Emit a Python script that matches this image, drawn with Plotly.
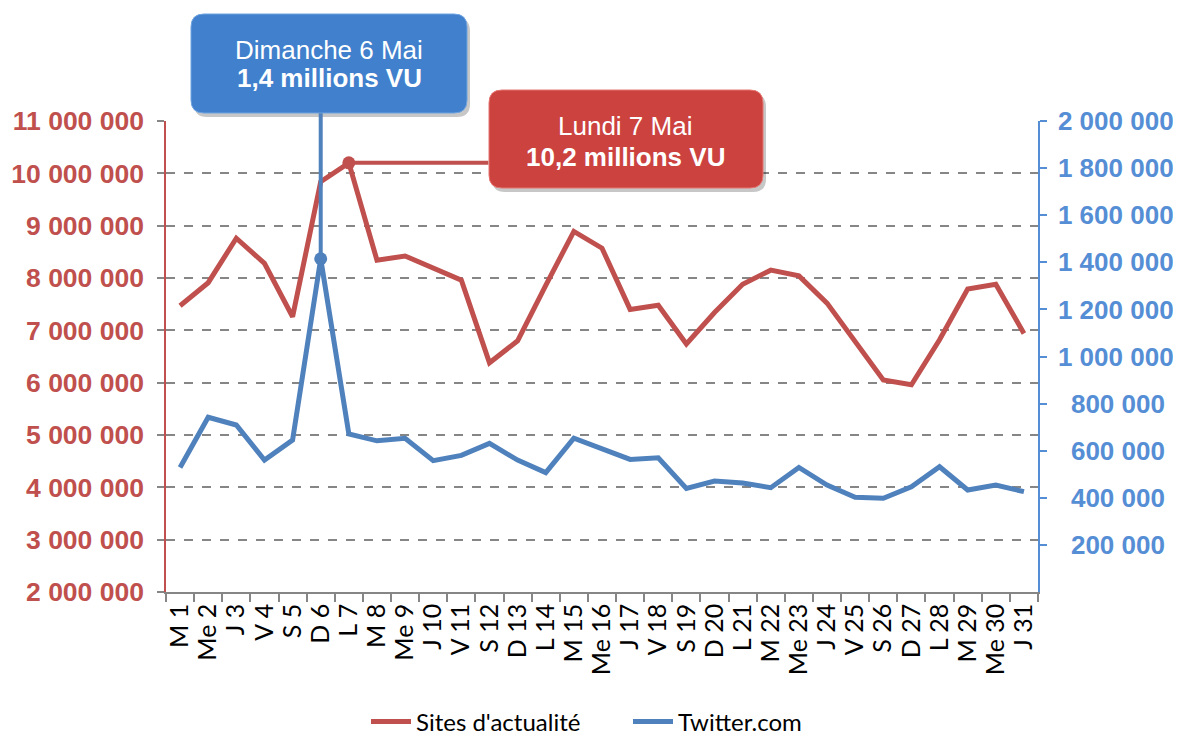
import plotly.graph_objects as go

categories = ["M 1", "Me 2", "J 3", "V 4", "S 5", "D 6", "L 7", "M 8", "Me 9", "J 10",
              "V 11", "S 12", "D 13", "L 14", "M 15", "Me 16", "J 17", "V 18", "S 19", "D 20",
              "L 21", "M 22", "Me 23", "J 24", "V 25", "S 26", "D 27", "L 28", "M 29", "Me 30", "J 31"]

sites_values = [7470000, 7910000, 8760000, 8280000, 7260000, 9840000, 10200000, 8340000, 8420000, 8190000,
                7960000, 6380000, 6800000, 7860000, 8890000, 8570000, 7400000, 7480000, 6740000, 7340000,
                7880000, 8150000, 8040000, 7520000, 6780000, 6050000, 5960000, 6820000, 7790000, 7880000, 6940000]

twitter_values = [529000, 742000, 709000, 560000, 645000, 1415000, 671000, 642000, 653000, 558000,
                  580000, 631000, 560000, 507000, 653000, 610000, 563000, 570000, 440000, 471000,
                  463000, 443000, 529000, 454000, 402000, 398000, 447000, 532000, 433000, 454000, 426000]

left_range = [2000000, 11000000]
right_range = [0, 2000000]
right_tickvals = [200000, 400000, 600000, 800000, 1000000, 1200000, 1400000, 1600000, 1800000, 2000000]

RED = "#C0504D"
BLUE = "#4F81BD"
BLUE_TXT = "#558ED5"
GRAY = "#868686"

# The page body adds an 8 px offset; the figure is sized so that the
# screen window (1181 x 738) is filled exactly.
OFF = 8
W, H = 1181 - OFF, 738 - OFF
# plot area in screen pixels
SX0, SX1, SY0, SY1 = 166, 1038, 121, 592
PW, PH = SX1 - SX0, SY1 - SY0
L, T = SX0 - OFF, SY0 - OFF
R, B = W - (SX1 - OFF), H - (SY1 - OFF)


def px(x):
    return (x - SX0) / PW


def py(y):
    return (SY1 - y) / PH


def rrect(x0, y0, x1, y1, r):
    X0, X1, Y0, Y1 = px(x0), px(x1), py(y0), py(y1)
    rx, ry = r / PW, r / PH
    return (f"M {X0+rx},{Y0} L {X1-rx},{Y0} Q {X1},{Y0} {X1},{Y0-ry} "
            f"L {X1},{Y1+ry} Q {X1},{Y1} {X1-rx},{Y1} L {X0+rx},{Y1} "
            f"Q {X0},{Y1} {X0},{Y1+ry} L {X0},{Y0-ry} Q {X0},{Y0} {X0+rx},{Y0} Z")


def fmt(v):
    return f"{v:,}".replace(",", " ")


right_ticktext = [("\u2002" if v < 1000000 else "") + fmt(v) for v in right_tickvals]

peak_sites = categories.index("L 7")
peak_tw = categories.index("D 6")

fig = go.Figure()
fig.add_trace(go.Scatter(x=categories, y=sites_values, name="Sites d'actualité",
                         mode="lines", line=dict(color=RED, width=5), yaxis="y"))
fig.add_trace(go.Scatter(x=categories, y=twitter_values, name="Twitter.com",
                         mode="lines", line=dict(color=BLUE, width=5), yaxis="y2"))
fig.add_trace(go.Scatter(x=[categories[peak_sites]], y=[sites_values[peak_sites]], mode="markers",
                         marker=dict(size=13, color=RED), showlegend=False, yaxis="y"))
fig.add_trace(go.Scatter(x=[categories[peak_tw]], y=[twitter_values[peak_tw]], mode="markers",
                         marker=dict(size=13, color=BLUE), showlegend=False, yaxis="y2"))

shapes = []
# blue callout
shapes.append(dict(type="path", xref="paper", yref="paper", path=rrect(194, 18, 470, 117, 13),
                   fillcolor="rgba(0,0,0,0.22)", line=dict(width=0), layer="above"))
shapes.append(dict(type="path", xref="paper", yref="paper", path=rrect(191, 14, 467, 113, 13),
                   fillcolor="#4080CC", line=dict(color="#6FA3E0", width=1), layer="above"))
# red callout
shapes.append(dict(type="path", xref="paper", yref="paper", path=rrect(492, 94, 766, 192, 13),
                   fillcolor="rgba(0,0,0,0.22)", line=dict(width=0), layer="above"))
shapes.append(dict(type="path", xref="paper", yref="paper", path=rrect(489, 90, 763, 188, 13),
                   fillcolor="#CC423F", line=dict(color="#E57470", width=1), layer="above"))


def label(text, sx, sy):
    return dict(x=px(sx), y=py(sy), xref="paper", yref="paper", showarrow=False, text=text,
                xanchor="center", yanchor="middle",
                font=dict(family="Liberation Sans", size=26, color="white"))


annotations = [
    # connectors from data points
    dict(x=categories[peak_tw], y=twitter_values[peak_tw], xref="x", yref="y2", text="",
         showarrow=True, arrowhead=0, arrowwidth=4, arrowcolor=BLUE, ax=0, ay=-147, standoff=0),
    dict(x=categories[peak_sites], y=sites_values[peak_sites], xref="x", yref="y", text="",
         showarrow=True, arrowhead=0, arrowwidth=4, arrowcolor=RED, ax=141, ay=0, standoff=0),
    # callout texts
    label("Dimanche 6 Mai", 329, 50),
    label("<b>1,4 millions VU</b>", 329, 78),
    label("Lundi 7 Mai", 625, 126),
    label("<b>10,2 millions VU</b>", 625, 157),
]

fig.update_layout(
    width=W, height=H,
    margin=dict(l=L, r=R, t=T, b=B, pad=0, autoexpand=False),
    paper_bgcolor="white", plot_bgcolor="white",
    separators=", ",
    showlegend=True,
    legend=dict(orientation="h", x=px(628), xanchor="center", y=py(722), yanchor="middle",
                font=dict(family="Lato", size=24, color="black"), itemwidth=40,
                entrywidth=207, tracegroupgap=0),
    xaxis=dict(type="category", range=[-0.5, len(categories) - 0.5], tickangle=-90,
               tickmode="linear", dtick=1, automargin=False,
               tickson="boundaries", ticks="outside", ticklen=8, tickcolor=GRAY, tickwidth=1.5,
               showline=True, linecolor=GRAY, linewidth=1.5, showgrid=False, zeroline=False,
               tickfont=dict(family="Lato", size=25, color="black")),
    yaxis=dict(range=left_range, dtick=1000000, tickformat=",d", showgrid=True, gridcolor=GRAY,
               gridwidth=2, griddash="dash", ticks="outside", ticklen=7, tickcolor=GRAY,
               tickwidth=1.5, showline=True, linecolor=RED, linewidth=1.5, zeroline=False,
               ticklabelstandoff=8, automargin=False,
               tickfont=dict(family="Liberation Sans", size=26.5, color=RED, weight="bold")),
    yaxis2=dict(range=right_range, overlaying="y", side="right", tickvals=right_tickvals,
                ticktext=right_ticktext, showgrid=False, ticks="outside", ticklen=7,
                tickcolor=BLUE_TXT, tickwidth=1.5, showline=True, linecolor=BLUE_TXT,
                linewidth=1.5, zeroline=False, ticklabelstandoff=6, automargin=False,
                tickfont=dict(family="Liberation Sans", size=26, color=BLUE_TXT, weight="bold")),
    shapes=shapes,
    annotations=annotations,
)

fig.write_html("out.html")
